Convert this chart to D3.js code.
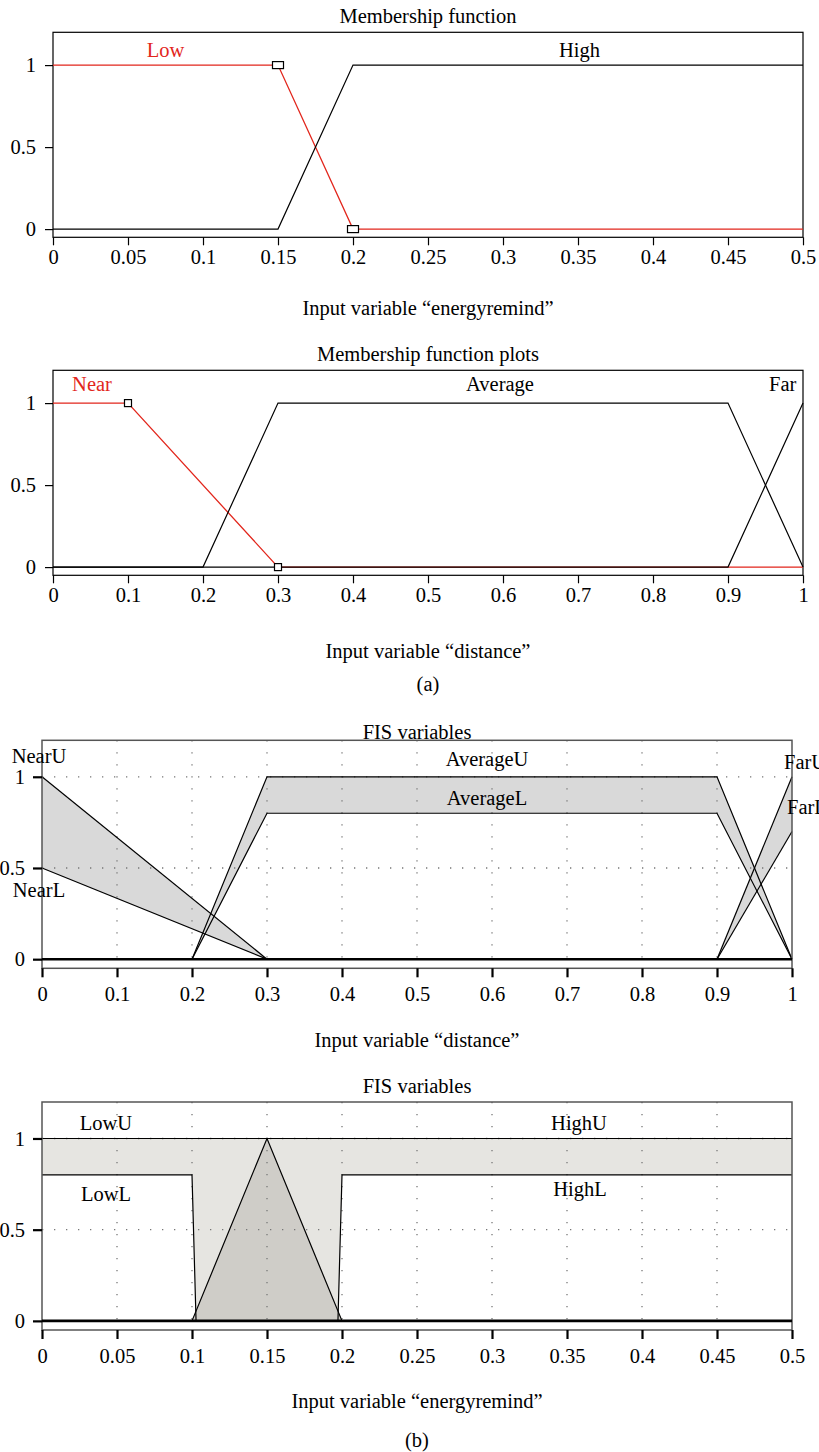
<!DOCTYPE html>
<html>
<head>
<meta charset="utf-8">
<script src="https://cdn.jsdelivr.net/npm/d3@7"></script>
<style>
  html, body { margin: 0; padding: 0; background: #ffffff; }
  svg { display: block; }
  svg text { font-family: "Liberation Serif", "DejaVu Serif", serif !important; }
</style>
</head>
<body>
<script>
// ---------------- DATA ----------------
const erTicks = [0, 0.05, 0.1, 0.15, 0.2, 0.25, 0.3, 0.35, 0.4, 0.45, 0.5];
const erTickLabels = ["0", "0.05", "0.1", "0.15", "0.2", "0.25", "0.3", "0.35", "0.4", "0.45", "0.5"];
const distTicks = [0, 0.1, 0.2, 0.3, 0.4, 0.5, 0.6, 0.7, 0.8, 0.9, 1];
const distTickLabels = ["0", "0.1", "0.2", "0.3", "0.4", "0.5", "0.6", "0.7", "0.8", "0.9", "1"];
const yTicks = [0, 0.5, 1];
const yTickLabels = ["0", "0.5", "1"];

// (a) top: energyremind type-1 MFs
const p1Low = [[0, 1], [0.15, 1], [0.2, 0], [0.5, 0]];
const p1High = [[0, 0], [0.15, 0], [0.2, 1], [0.5, 1]];
const p1LowMarkers = [[0.15, 1], [0.2, 0]];

// (a) bottom: distance type-1 MFs
const p2Near = [[0, 1], [0.1, 1], [0.3, 0], [1, 0]];
const p2Average = [[0, 0], [0.2, 0], [0.3, 1], [0.9, 1], [1, 0]];
const p2Far = [[0, 0], [0.9, 0], [1, 1]];
const p2NearMarkers = [[0.1, 1], [0.3, 0]];

// (b) top: distance type-2 MFs
const nearU = [[0, 1], [0.3, 0]];
const nearL = [[0, 0.5], [0.3, 0]];
const averageU = [[0.2, 0], [0.3, 1], [0.9, 1], [1, 0]];
const averageL = [[0.2, 0], [0.3, 0.8], [0.9, 0.8], [1, 0]];
const farU = [[0.9, 0], [1, 1]];
const farL = [[0.9, 0], [1, 0.7]];

// (b) bottom: energyremind type-2 MFs
const lowU = [[0, 1], [0.15, 1]];
const lowL = [[0, 0.8], [0.1, 0.8], [0.1027, 0]];
const highU = [[0.15, 1], [0.5, 1]];
const highL = [[0.1973, 0], [0.2, 0.8], [0.5, 0.8]];
const midTri = [[0.1, 0], [0.15, 1], [0.2, 0]];

// ---------------- DRAW ----------------
const W = 819, H = 1452;
const RED = "#e2261c";
const FONT = "'Liberation Serif', 'DejaVu Serif', serif";
const svg = d3.select("body").append("svg").attr("width", W).attr("height", H)
  .attr("font-family", FONT);
const FS = 20.5;

function styleText(sel) {
  return sel.attr("font-family", FONT).style("font-family", FONT).attr("font-size", FS).attr("fill", "#000");
}

function txt(g, x, y, s, opts = {}) {
  const t = g.append("text").attr("x", x).attr("y", y)
    .attr("dominant-baseline", "central")
    .attr("text-anchor", opts.anchor || "middle")
    .text(s);
  styleText(t);
  if (opts.fill) t.attr("fill", opts.fill);
  return t;
}

function lineGen(x, y) {
  return d3.line().x(d => x(d[0])).y(d => y(d[1]));
}

// ---------- Type A panel (type-1 plots) ----------
function panelA(cfg) {
  const g = svg.append("g");
  const x = d3.scaleLinear().domain(cfg.xDomain).range([53, 803]);
  const y = d3.scaleLinear().domain([-0.05, 1.2]).range([cfg.bottom, cfg.bottom - 205]);
  const L = lineGen(x, y);

  const xa = g.append("g").attr("transform", `translate(0,${y(-0.05)})`)
    .call(d3.axisBottom(x).tickValues(cfg.ticks).tickFormat((d, i) => cfg.tickLabels[i]).tickSize(8).tickSizeOuter(0));
  xa.attr("font-family", FONT);
  xa.select(".domain").remove();
  xa.selectAll("line").attr("stroke", "#000").attr("stroke-width", 1.2);
  styleText(xa.selectAll("text")).attr("y", 20).attr("dy", "0.35em");

  const ya = g.append("g").attr("transform", `translate(${x(cfg.xDomain[0])},0)`)
    .call(d3.axisLeft(y).tickValues(yTicks).tickFormat((d, i) => yTickLabels[i]).tickSize(8).tickPadding(9).tickSizeOuter(0));
  ya.attr("font-family", FONT);
  ya.select(".domain").remove();
  ya.selectAll("line").attr("stroke", "#000").attr("stroke-width", 1.2);
  styleText(ya.selectAll("text"));

  g.append("rect").attr("x", x.range()[0]).attr("y", y(1.2))
    .attr("width", x.range()[1] - x.range()[0]).attr("height", y(-0.05) - y(1.2))
    .attr("fill", "none").attr("stroke", "#000").attr("stroke-width", 1.2);

  g.append("path").attr("d", L(cfg.red)).attr("fill", "none").attr("stroke", RED).attr("stroke-width", 1.3);
  cfg.black.forEach(s => g.append("path").attr("d", L(s)).attr("fill", "none").attr("stroke", "#000").attr("stroke-width", 1.2));

  cfg.markers.forEach(m => {
    g.append("rect").attr("x", x(m[0]) - cfg.mw / 2).attr("y", y(m[1]) - cfg.mh / 2)
      .attr("width", cfg.mw).attr("height", cfg.mh)
      .attr("fill", "#fff").attr("stroke", "#000").attr("stroke-width", 1.2);
  });

  cfg.labels.forEach(l => txt(g, x(l.x), l.py, l.t, { fill: l.fill }));
  txt(g, 428, cfg.titleY, cfg.title);
  txt(g, 428, cfg.xlabelY, cfg.xlabel);
}

panelA({
  xDomain: [0, 0.5], bottom: 237.3, ticks: erTicks, tickLabels: erTickLabels,
  red: p1Low, black: [p1High], markers: p1LowMarkers, mw: 11, mh: 7,
  labels: [{ x: 0.075, py: 50, t: "Low", fill: RED }, { x: 0.351, py: 50, t: "High" }],
  title: "Membership function", titleY: 16,
  xlabel: "Input variable \u201Cenergyremind\u201D", xlabelY: 308
});

panelA({
  xDomain: [0, 1], bottom: 575.3, ticks: distTicks, tickLabels: distTickLabels,
  red: p2Near, black: [p2Average, p2Far], markers: p2NearMarkers, mw: 7, mh: 7,
  labels: [{ x: 0.052, py: 384, t: "Near", fill: RED }, { x: 0.596, py: 384, t: "Average" }, { x: 0.973, py: 384, t: "Far" }],
  title: "Membership function plots", titleY: 354,
  xlabel: "Input variable \u201Cdistance\u201D", xlabelY: 651
});

txt(svg, 428, 684, "(a)");

// ---------- Type B panel (type-2 FIS variables) ----------
function panelB(cfg) {
  const g = svg.append("g");
  const x = d3.scaleLinear().domain(cfg.xDomain).range([42, 792]);
  const y = d3.scaleLinear().domain([-0.05, 1.2]).range([cfg.bottom, cfg.bottom - 228]);
  const L = lineGen(x, y);

  cfg.fills.forEach(f => g.append("path").attr("d", L(f.pts) + "Z").attr("fill", f.color).attr("stroke", "none"));

  const grid = g.append("g").attr("stroke", "#777").attr("stroke-width", 1.3).attr("stroke-dasharray", "1.3 10.7");
  cfg.ticks.slice(1, -1).forEach(t => grid.append("line")
    .attr("x1", x(t)).attr("x2", x(t)).attr("y1", y(1.2)).attr("y2", y(-0.05)));
  [0.5, 1].forEach(t => grid.append("line")
    .attr("x1", x.range()[0]).attr("x2", x.range()[1]).attr("y1", y(t)).attr("y2", y(t)));

  cfg.lines.forEach(s => g.append("path").attr("d", L(s)).attr("fill", "none").attr("stroke", "#000").attr("stroke-width", 1.2));

  g.append("rect").attr("x", x.range()[0]).attr("y", y(1.2))
    .attr("width", x.range()[1] - x.range()[0]).attr("height", y(-0.05) - y(1.2))
    .attr("fill", "none").attr("stroke", "#555").attr("stroke-width", 1.5);

  g.append("line").attr("x1", x.range()[0]).attr("x2", x.range()[1]).attr("y1", y(0)).attr("y2", y(0))
    .attr("stroke", "#000").attr("stroke-width", 2.6);

  const xa = g.append("g").attr("transform", `translate(0,${y(-0.05)})`)
    .call(d3.axisBottom(x).tickValues(cfg.ticks).tickFormat((d, i) => cfg.tickLabels[i]).tickSize(9).tickSizeOuter(0));
  xa.attr("font-family", FONT);
  xa.select(".domain").remove();
  xa.selectAll("line").attr("stroke", "#000").attr("stroke-width", 2.2);
  styleText(xa.selectAll("text")).attr("y", 26).attr("dy", "0.35em");

  const ya = g.append("g").attr("transform", `translate(${x.range()[0]},0)`)
    .call(d3.axisLeft(y).tickValues(yTicks).tickFormat((d, i) => yTickLabels[i]).tickSize(9).tickPadding(8).tickSizeOuter(0));
  ya.attr("font-family", FONT);
  ya.select(".domain").remove();
  ya.selectAll("line").attr("stroke", "#000").attr("stroke-width", 2.2);
  styleText(ya.selectAll("text"));

  cfg.labels.forEach(l => txt(g, l.px, l.py, l.t, { anchor: l.anchor || "middle" }));
  txt(g, 417, cfg.titleY, cfg.title);
  txt(g, 417, cfg.xlabelY, cfg.xlabel);
}

const band = (u, l) => u.concat(l.slice().reverse());
const GRAY = "#d9d9d9";

panelB({
  xDomain: [0, 1], bottom: 968.3, ticks: distTicks, tickLabels: distTickLabels,
  fills: [
    { pts: band(nearU, nearL), color: GRAY },
    { pts: band(averageU, averageL), color: GRAY },
    { pts: band(farU, farL), color: GRAY }
  ],
  lines: [nearU, nearL, averageU, averageL, farU, farL],
  labels: [
    { px: 39, py: 756, t: "NearU" }, { px: 39, py: 890, t: "NearL" },
    { px: 487, py: 759, t: "AverageU" }, { px: 487, py: 798, t: "AverageL" },
    { px: 784, py: 762, t: "FarU", anchor: "start" }, { px: 787, py: 807, t: "FarL", anchor: "start" }
  ],
  title: "FIS variables", titleY: 732,
  xlabel: "Input variable \u201Cdistance\u201D", xlabelY: 1040
});

const upperAll = lowU.concat(highU.slice(1));
const lowerAll = lowL.concat(highL);
panelB({
  xDomain: [0, 0.5], bottom: 1330, ticks: erTicks, tickLabels: erTickLabels,
  fills: [
    { pts: band(upperAll, lowerAll), color: "#e6e5e1" },
    { pts: midTri, color: "#cfcdc8" }
  ],
  lines: [upperAll, lowL, highL, midTri],
  labels: [
    { px: 106, py: 1123, t: "LowU" }, { px: 106, py: 1194, t: "LowL" },
    { px: 579, py: 1123, t: "HighU" }, { px: 580, py: 1189, t: "HighL" }
  ],
  title: "FIS variables", titleY: 1086,
  xlabel: "Input variable \u201Cenergyremind\u201D", xlabelY: 1401
});

txt(svg, 417, 1440, "(b)");
</script>
</body>
</html>
